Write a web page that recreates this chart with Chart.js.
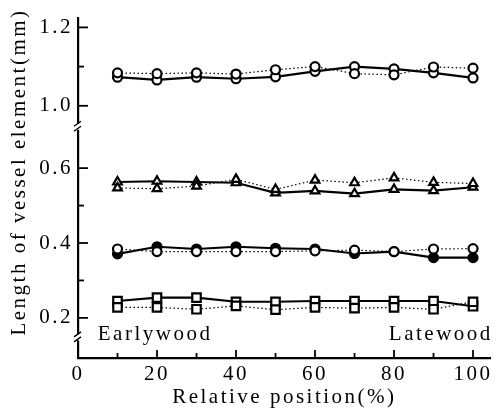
<!DOCTYPE html>
<html><head><meta charset="utf-8">
<script src="https://cdn.jsdelivr.net/npm/chart.js@4.4.1/dist/chart.umd.min.js"></script>
<style>html,body{margin:0;padding:0;background:#fff;}</style>
</head><body>
<canvas id="c" width="499" height="412" style="width:499px;height:412px;display:block"></canvas>
<script>
// ---- data ----
const positions = [10, 20, 30, 40, 50, 60, 70, 80, 90, 100];
const circleSolidUpper  = [1.073, 1.066, 1.073, 1.069, 1.074, 1.088, 1.100, 1.094, 1.084, 1.071];
const circleDottedUpper = [1.084, 1.082, 1.084, 1.081, 1.092, 1.100, 1.082, 1.079, 1.099, 1.096];
const triangleSolid     = [0.563, 0.565, 0.563, 0.561, 0.534, 0.539, 0.532, 0.543, 0.540, 0.549];
const triangleDotted    = [0.547, 0.545, 0.552, 0.570, 0.543, 0.568, 0.561, 0.574, 0.562, 0.559];
const circleSolidLower  = [0.371, 0.390, 0.384, 0.390, 0.386, 0.384, 0.372, 0.377, 0.361, 0.361];
const circleDottedLower = [0.384, 0.377, 0.377, 0.377, 0.377, 0.379, 0.381, 0.377, 0.384, 0.385];
const squareSolid       = [0.245, 0.254, 0.254, 0.243, 0.243, 0.245, 0.245, 0.245, 0.245, 0.231];
const squareDotted      = [0.228, 0.228, 0.223, 0.232, 0.222, 0.228, 0.226, 0.228, 0.223, 0.243];

const xTickLabels = [0, 20, 40, 60, 80, 100];
const xMinorTicks = [10, 30, 50, 70, 90];
const yUpperTicks = [1.0, 1.2];
const yUpperMinor = [1.1];
const yLowerTicks = [0.2, 0.4, 0.6];
const yLowerMinor = [0.3, 0.5];
const yTitle = 'Length of vessel element(mm)';
const xTitle = 'Relative position(%)';
const leftNote = 'Earlywood';
const rightNote = 'Latewood';

const FONT = "'Liberation Serif', serif";
const SPACING = '2.5px';
Chart.defaults.color = '#000';
Chart.defaults.font.family = FONT;
Chart.defaults.font.size = 21;

const pts = arr => positions.map((x, i) => ({x, y: arr[i]}));
function series(arr, axis, solid, style, filled) {
  return {
    data: pts(arr), yAxisID: axis,
    borderColor: '#000', borderWidth: solid ? 2.2 : 1.2,
    borderDash: solid ? [] : [1.5, 2.5],
    pointStyle: style,
    pointRadius: style === 'rect' ? 6 : (style === 'triangle' ? 5 : 4.5),
    pointBorderWidth: 2.2,
    pointBackgroundColor: filled ? '#000' : '#fff',
    pointBorderColor: '#000',
    tension: 0, fill: false
  };
}

const decor = {
  id: 'decor',
  beforeDraw(chart) { chart.ctx.letterSpacing = SPACING; },
  afterDraw(chart) {
    const {ctx, chartArea, scales} = chart;
    const xs = scales.x, yt = scales.yTop, yb = scales.yBot;
    const ax = chartArea.left, by = chartArea.bottom;
    ctx.save();
    ctx.strokeStyle = '#000';
    ctx.lineWidth = 1.8;
    const yTick = (s, v, len) => { const p = s.getPixelForValue(v); ctx.beginPath(); ctx.moveTo(ax, p); ctx.lineTo(ax + len, p); ctx.stroke(); };
    yUpperTicks.forEach(v => yTick(yt, v, 10));
    yUpperMinor.forEach(v => yTick(yt, v, 6));
    yLowerTicks.forEach(v => yTick(yb, v, 10));
    yLowerMinor.forEach(v => yTick(yb, v, 6));
    const xTick = (v, len) => { const p = xs.getPixelForValue(v); ctx.beginPath(); ctx.moveTo(p, by); ctx.lineTo(p, by - len); ctx.stroke(); };
    xTickLabels.filter(v => v > 0).forEach(v => xTick(v, 8));
    xMinorTicks.forEach(v => xTick(v, 5));
    // axis breaks
    const brk = (x, y) => {
      ctx.fillStyle = '#fff';
      ctx.fillRect(x - 2, y - 3, 4, 6);
      ctx.lineWidth = 1.4;
      ctx.beginPath();
      ctx.moveTo(x - 4, y - 0.5); ctx.lineTo(x + 3, y - 5.5);
      ctx.moveTo(x - 4, y + 4.5); ctx.lineTo(x + 3, y - 0.5);
      ctx.stroke();
    };
    brk(ax, yt.bottom);
    brk(ax, yb.getPixelForValue(0.148));
    // notes
    ctx.fillStyle = '#000';
    ctx.font = '21px ' + FONT;
    ctx.letterSpacing = SPACING;
    ctx.textBaseline = 'alphabetic';
    const ny = yb.getPixelForValue(0.142);
    ctx.textAlign = 'left';
    ctx.fillText(leftNote, xs.getPixelForValue(5), ny);
    ctx.textAlign = 'right';
    ctx.fillText(rightNote, chartArea.right + 2, ny);
    // y title
    ctx.translate(19, 172);
    ctx.rotate(-Math.PI / 2);
    ctx.textAlign = 'center';
    ctx.textBaseline = 'middle';
    ctx.fillText(yTitle, 0, 0);
    ctx.restore();
  }
};

const yCommon = {
  type: 'linear', position: 'left', stack: 'y',
  grid: {display: false, drawTicks: false},
  border: {display: true, color: '#000', width: 2.2},
  ticks: {padding: 5, color: '#000', font: {size: 21, family: FONT}, callback: v => Number(v).toFixed(1)},
  afterFit: s => { s.width = 78; }
};

new Chart(document.getElementById('c'), {
  type: 'line',
  data: {
    datasets: [
      series(circleDottedUpper, 'yTop', false, 'circle', false),
      series(circleSolidUpper, 'yTop', true, 'circle', false),
      series(triangleDotted, 'yBot', false, 'triangle', false),
      series(triangleSolid, 'yBot', true, 'triangle', false),
      series(circleDottedLower, 'yBot', false, 'circle', false),
      series(circleSolidLower, 'yBot', true, 'circle', true),
      series(squareDotted, 'yBot', false, 'rect', false),
      series(squareSolid, 'yBot', true, 'rect', false)
    ]
  },
  options: {
    responsive: false, animation: false, devicePixelRatio: 1,
    layout: {padding: {top: 12, right: 2, left: 0, bottom: 0}},
    plugins: {legend: {display: false}, tooltip: {enabled: false}},
    scales: {
      x: {
        type: 'linear', min: 0, max: 104.5,
        grid: {display: false, drawTicks: false},
        border: {display: true, color: '#000', width: 2.2},
        afterBuildTicks: s => { s.ticks = xTickLabels.map(v => ({value: v})); },
        ticks: {padding: 4, color: '#000', font: {size: 21, family: FONT}, maxRotation: 0, autoSkip: false},
        title: {display: true, text: xTitle, color: '#000', font: {size: 21, family: FONT}, padding: {top: 0, bottom: 2}},
        afterFit: s => { s.height = 54; }
      },
      yBot: Object.assign({}, yCommon, {
        stackWeight: 235, min: 0.0928, max: 0.7104,
        afterBuildTicks: s => { s.ticks = yLowerTicks.map(v => ({value: v})); }
      }),
      yTop: Object.assign({}, yCommon, {
        stackWeight: 111, min: 0.9464, max: 1.225,
        afterBuildTicks: s => { s.ticks = yUpperTicks.map(v => ({value: v})); }
      })
    }
  },
  plugins: [decor]
});
</script>
</body></html>
